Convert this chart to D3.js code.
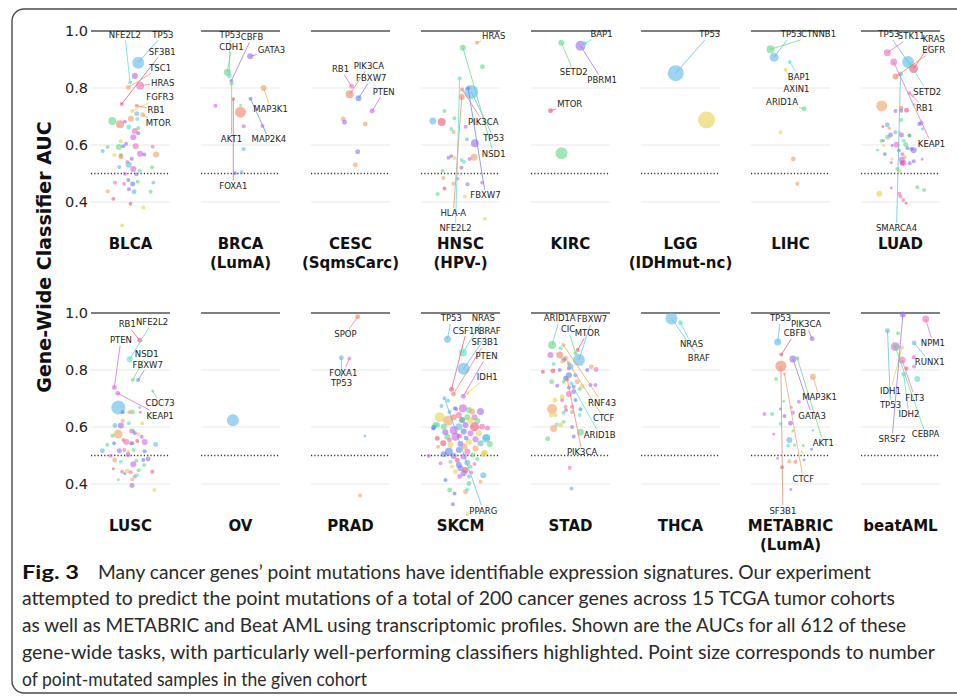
<!DOCTYPE html>
<html>
<head>
<meta charset="utf-8">
<script src="https://cdn.jsdelivr.net/npm/d3@7"></script>
<style>
  body { margin: 0; background: #fff; }
  svg { display: block; }
</style>
</head>
<body>
<script>
let svgWidth = 957;
let svgHeight = 697;

// cohort names per row (second entry = subtitle line)
let topCohorts = [["BLCA"], ["BRCA", "(LumA)"], ["CESC", "(SqmsCarc)"], ["HNSC", "(HPV-)"],
    ["KIRC"], ["LGG", "(IDHmut-nc)"], ["LIHC"], ["LUAD"]];
let bottomCohorts = [["LUSC"], ["OV"], ["PRAD"], ["SKCM"], ["STAD"], ["THCA"], ["METABRIC", "(LumA)"], ["beatAML"]];

let yTicks = [0.4, 0.6, 0.8, 1.0];
let gridValues = [0.4, 0.6, 0.8];

// gene colour groups
let palette = ["#5cb8e8", "#f06ab8", "#f08060", "#60d880", "#9a6af0", "#f0a060",
    "#e8d050", "#50e0d0", "#6080f0", "#d060e8", "#f05070", "#409060"];

// points: [jitter, AUC, point-mutated samples, colour group]
// labels: [gene, point number, label jitter, label AUC]
let blca = [[1.95,.889,100,0],[1.1,.842,25,4],[-0.1,.819,11,7],[-0.55,.802,17,5],[2.4,.808,44,1],[-2.2,.744,11,10],[1.55,.738,11,2],[0.45,.719,11,6],[1.55,.710,17,0],[3.05,.706,17,5],[-4.55,.684,44,3],[-2.6,.673,44,2],[0.1,.692,25,5],[-1.4,.682,11,4],[1.7,.691,11,7],[-0.45,.663,17,7],[1.95,.660,11,3],[1.1,.649,25,1],[1.95,.641,11,4],[0.7,.627,25,9],[-2.45,.613,11,6],[-1.1,.604,11,4],[1.3,.596,25,1],[-2.9,.593,25,3],[-1.8,.596,11,8],[5.55,.594,11,1],[-5.7,.593,11,3],[-6.95,.579,11,0],[-2.4,.565,11,3],[-4.05,.565,11,6],[2.4,.569,25,9],[3.45,.567,11,4],[6.4,.567,25,5],[-2.4,.559,17,2],[0.3,.552,11,4],[-0.8,.540,11,1],[-0.45,.531,25,0],[0.7,.516,25,9],[2.3,.510,11,3],[5.4,.522,11,3],[-2.8,.523,11,0],[-1.4,.499,11,9],[1.45,.497,11,4],[-0.55,.477,11,8],[1.8,.471,11,3],[-3.9,.468,11,1],[-1.6,.464,11,1],[0.55,.463,17,8],[5.7,.468,11,0],[-0.4,.445,11,4],[0.9,.436,17,0],[-5.7,.438,11,5],[5.05,.436,11,3],[-4.3,.411,11,10],[0,.394,11,10],[3.2,.381,11,6],[-2.1,.318,11,6]];
let blcaLabels = [["NFE2L2",3,-1.4,.987],["TP53",1,8.1,.987],["SF3B1",6,7.95,.927],["TSC1",4,7.4,.871],["HRAS",5,8.05,.819],["FGFR3",8,7.4,.767],["RB1",7,6.4,.722],["MTOR",10,6.95,.676]];

let brca = [[-3.3,.855,34,3],[-2.8,.842,17,7],[-2.3,.825,11,4],[-2.2,.816,11,3],[2.4,.911,25,4],[5.8,.800,25,5],[-6.25,.738,11,9],[2.5,.762,11,8],[-1.8,.761,9,10],[0,.739,6,3],[0,.715,84,2],[0.8,.666,11,9],[5.5,.667,11,9],[0.8,.586,11,0],[-1.4,.501,11,8],[0.3,.504,11,0]];
let brcaLabels = [["TP53",2,-2.6,.987],["CDH1",1,-2.25,.945],["CBFB",3,2.9,.980],["GATA3",5,7.75,.933],["MAP3K1",6,7.5,.727],["AKT1",4,-2.25,.620],["MAP2K4",8,7.1,.620],["FOXA1",9,-1.8,.457]];

let cesc = [[0.25,.806,17,1],[-0.2,.778,44,2],[2,.764,25,8],[5.4,.719,17,9],[-1.8,.691,17,5],[-1.5,.680,17,4],[3.7,.674,17,5],[1.8,.576,17,4],[1.2,.530,17,5]];
let cescLabels = [["RB1",1,-2.5,.867],["PIK3CA",2,4.6,.878],["FBXW7",3,5.2,.834],["PTEN",4,8.3,.787]];

let hnsc = [[4.1,.959,11,5],[0.6,.941,25,3],[5.5,.875,17,3],[-0.2,.834,11,7],[0.4,.795,11,2],[2.7,.786,136,0],[0.3,.768,25,2],[1.9,.799,11,8],[-4,.719,11,3],[-6.9,.684,34,0],[-4.7,.681,44,10],[-1.5,.694,11,3],[-2.3,.656,11,7],[-1.75,.646,11,5],[1.3,.664,11,9],[1.6,.620,11,0],[3.6,.606,44,4],[3.4,.557,34,5],[-3,.555,11,4],[-2.3,.561,11,4],[-1.5,.554,11,6],[0.3,.547,11,7],[0.9,.540,11,7],[2.3,.551,11,9],[0.25,.520,11,4],[-4.5,.509,11,3],[-4.3,.484,11,5],[-0.75,.482,11,1],[-1.8,.464,11,5],[1.75,.462,11,4],[5.4,.468,11,9],[-4,.447,11,10],[-5.7,.428,11,3],[1.1,.419,11,6],[6.1,.341,11,6]];
let hnscLabels = [["HRAS",1,8.3,.982],["PIK3CA",5,5.7,.680],["TP53",6,8.3,.624],["NSD1",2,8.3,.568],["FBXW7",8,6.25,.425],["HLA-A",7,-1.8,.360],["NFE2L2",4,-1.25,.308]];

let kirc = [[-2.3,.959,25,3],[2.5,.948,69,4],[3.6,.957,11,7],[-5,.720,17,10],[-2.25,.571,100,3]];
let kircLabels = [["BAP1",3,7.75,.988],["SETD2",1,0.8,.857],["PBRM1",2,7.9,.828],["MTOR",4,-0.2,.743]];

let lgg = [[-1.2,.852,178,0],[6.5,.688,200,6]];
let lggLabels = [["TP53",1,7.3,.988]];

let lihc = [[-5,.936,44,3],[-4.1,.908,56,0],[-0.2,.891,11,7],[-1.25,.864,11,6],[3.4,.727,17,3],[-2.5,.645,11,6],[0.7,.551,17,5],[1.7,.464,11,5]];
let lihcLabels = [["TP53",2,0.2,.988],["CTNNB1",1,7.0,.988],["BAP1",3,2.1,.840],["AXIN1",4,1.5,.798],["ARID1A",5,-2.1,.750]];

let luad = [[-3.3,.924,34,1],[-1.7,.891,34,1],[1.9,.891,100,0],[3.25,.868,56,10],[2.25,.887,11,7],[0,.849,17,0],[-1.2,.840,25,2],[2.2,.782,11,1],[3.1,.773,6,3],[3.4,.741,6,0],[-4.7,.737,84,5],[0.25,.730,11,2],[1.5,.722,17,10],[-1.25,.719,11,4],[0.2,.720,11,8],[0.2,.688,11,3],[5.2,.677,17,9],[4.7,.674,11,8],[5.5,.656,6,0],[-4.4,.664,6,10],[-3.3,.670,17,0],[-2.8,.659,6,2],[-1.3,.645,11,0],[-0.3,.645,6,6],[-2.5,.635,17,4],[-3.2,.627,17,3],[0.25,.635,17,4],[2.25,.633,11,11],[0.8,.615,11,7],[-4.25,.615,6,4],[-4.75,.615,11,3],[-1,.601,25,1],[-2.1,.598,6,4],[1.3,.601,17,3],[1.75,.589,11,8],[3.3,.582,25,4],[2.75,.586,11,8],[-4.2,.598,6,6],[-5.75,.582,6,3],[-0.4,.581,11,4],[0.5,.568,11,9],[-3.9,.568,11,8],[-2.1,.551,6,6],[0.3,.548,25,9],[0.75,.538,25,9],[1,.557,11,5],[0.4,.536,17,10],[2.3,.536,11,4],[3.3,.543,11,4],[5.4,.550,6,1],[-2.3,.538,6,10],[-0.8,.516,11,3],[-0.2,.510,11,6],[-5.3,.429,25,6],[-2.3,.449,6,9],[-0.3,.429,11,1],[0,.419,11,1],[0.7,.407,11,1],[1.4,.396,6,10],[4.2,.452,11,3],[5.9,.442,11,3]];
let luadLabels = [["TP53",3,-2.9,.988],["STK11",1,2.7,.982],["KRAS",4,8.3,.972],["EGFR",7,8.3,.933],["SETD2",5,6.7,.787],["RB1",8,6,.731],["KEAP1",2,7.75,.604],["SMARCA4",6,-1,.308]];

let lusc = [[2.3,.904,17,10],[-0.2,.838,25,7],[0.55,.765,11,3],[1.9,.765,11,8],[-4.05,.739,17,9],[-3.2,.718,17,9],[5.55,.726,6,3],[-3.05,.668,136,0],[2.3,.668,6,0],[0.45,.653,17,3],[-0.3,.652,11,5],[-1.95,.652,11,8],[2.45,.652,6,9],[2.95,.613,11,6],[-0.45,.613,11,7],[-1.9,.622,11,5],[-2.4,.605,25,4],[-3.9,.605,17,0],[-3.1,.575,56,5],[0.7,.586,11,7],[0.3,.586,17,1],[1.1,.578,11,4],[1.95,.575,11,6],[2.8,.566,11,9],[-4.55,.569,11,3],[6.3,.539,17,0],[3.55,.547,25,9],[-5.8,.538,11,3],[-4.1,.543,11,8],[-7.05,.517,17,0],[-2.8,.517,17,4],[-1.8,.554,11,2],[-1.1,.548,25,1],[0.1,.543,11,2],[0.45,.543,11,8],[1.7,.551,11,10],[-0.55,.513,11,6],[0.8,.519,11,3],[-1.55,.519,11,1],[3.55,.515,11,8],[-0.6,.503,17,9],[-4.95,.499,11,1],[-3.95,.484,17,5],[-2.4,.478,11,7],[1.45,.482,11,3],[3.2,.484,11,8],[4.4,.488,17,4],[0.7,.469,25,9],[3.4,.467,11,3],[-4.3,.453,6,10],[-0.8,.446,17,6],[-2.1,.443,11,1],[-1.4,.436,6,8],[0.05,.441,11,1],[2.05,.448,11,3],[1.1,.426,11,2],[1.6,.431,11,7],[5.45,.443,11,10],[0.45,.416,11,5],[-3.05,.415,6,3],[0.4,.395,17,4],[5.95,.379,11,6]];
let luscLabels = [["RB1",1,-0.8,.960],["NFE2L2",2,5.4,.968],["PTEN",5,-2.4,.905],["NSD1",3,4.05,.856],["FBXW7",4,4.3,.818],["CDC73",7,7.4,.683],["KEAP1",6,7.4,.640]];

let ov = [[-1.9,.624,100,0]];
let ovLabels = [];

let prad = [[1.8,.987,17,2],[-2.3,.843,17,0],[-0.3,.840,11,1],[3.6,.568,6,0],[2.4,.360,11,5]];
let pradLabels = [["SPOP",1,-1.25,.925],["FOXA1",3,-1.8,.791],["TP53",2,-2.25,.753]];

let skcm = [[-3.25,.908,34,0],[0.6,.861,44,7],[0.8,.804,100,0],[-2.25,.732,17,10],[-1.75,.716,17,2],[0.7,.708,17,9],[1.7,.719,11,6],[-4,.701,11,0],[-3.1,.692,11,0],[-1.4,.666,11,8],[0.6,.666,44,9],[5,.654,34,4],[2.1,.660,25,3],[2.9,.654,25,5],[-5.2,.634,69,6],[-3.1,.622,69,5],[-6.25,.607,25,3],[-6.7,.599,17,8],[-4.2,.601,25,3],[-1.7,.634,25,2],[-0.4,.642,25,1],[1.7,.634,25,3],[3.5,.634,25,1],[1.25,.607,25,4],[-0.4,.601,34,0],[3.5,.601,56,10],[5.4,.601,25,1],[-1.7,.589,44,9],[0.8,.584,25,8],[2.5,.578,25,9],[4.6,.578,25,6],[-1.25,.566,44,9],[-3.3,.566,25,3],[-5.8,.560,17,10],[-4.3,.543,25,10],[-2.5,.537,25,6],[0,.540,25,4],[2.1,.548,25,6],[3.75,.557,25,9],[5,.543,25,0],[6.5,.564,34,7],[7.3,.540,25,3],[-0.4,.519,25,8],[-2.9,.513,44,8],[1.7,.513,25,1],[3.75,.525,25,5],[5.8,.505,25,6],[-1.7,.498,25,4],[0.8,.496,25,9],[-7.9,.498,11,9],[-5,.473,11,1],[-2.5,.478,11,3],[-0.4,.467,25,8],[1.7,.475,25,0],[3.5,.470,11,1],[0,.455,25,4],[1.25,.449,25,10],[2.5,.461,11,3],[-1.25,.443,17,6],[0.8,.438,25,4],[2.1,.426,11,0],[5.7,.431,25,0],[-0.2,.426,17,9],[-3.75,.414,11,8],[5,.408,11,5],[2.1,.402,17,3],[-2.7,.379,17,3],[1.25,.373,17,5],[-1.5,.367,11,8],[-1.9,.329,11,4],[1.7,.294,11,6],[1.7,.381,11,7],[-6.8,.595,11,8],[-5.7,.607,17,7],[6.4,.560,44,0],[6.1,.510,25,6],[-1.1,.663,11,4],[4.2,.621,25,3],[-2.75,.653,11,0],[2.5,.622,25,6],[0.4,.625,25,11],[-3.8,.582,25,4],[1.4,.561,17,8],[-2.75,.554,17,1],[3.1,.502,17,3],[-4.2,.504,25,8],[-0.8,.483,17,10],[4.2,.488,11,3],[-2.1,.461,11,6],[2.7,.440,11,1],[-5.6,.531,11,5],[6.75,.596,17,9],[-0.25,.568,17,10],[1,.531,25,5],[-4.75,.674,11,0]];
let skcmLabels = [["TP53",1,-2.3,.981],["NRAS",2,5.7,.981],["CSF1R",4,1.5,.938],["BRAF",3,7.3,.938],["SF3B1",5,6.1,.897],["PTEN",6,6.5,.850],["IDH1",7,6.7,.776],["PPARG",8,5.7,.306]];

let stad = [[-4.6,.888,44,3],[-1.8,.888,11,5],[-2.5,.876,11,7],[-5,.853,25,9],[-2.7,.853,34,2],[-1.25,.841,17,5],[1.8,.870,11,10],[1.25,.859,11,3],[2.1,.835,100,0],[-1.7,.835,17,4],[-4.2,.821,11,7],[-2.1,.829,11,6],[-0.4,.823,11,2],[-0.4,.806,11,9],[-6.9,.794,11,10],[-4.4,.797,17,10],[-2.7,.800,11,4],[-0.4,.782,25,8],[1.25,.782,11,8],[5.2,.811,17,5],[6.4,.802,17,1],[4.2,.800,11,8],[-4.7,.759,17,3],[-3.3,.745,11,4],[-1.7,.759,11,3],[0.2,.753,11,7],[-0.8,.767,11,2],[0.8,.741,11,4],[1.7,.759,17,5],[2.3,.733,11,3],[2.9,.742,17,6],[5,.747,11,4],[6.25,.747,11,9],[0.8,.724,17,4],[-0.4,.716,25,1],[-2.1,.695,11,9],[1.25,.695,11,8],[-3.9,.695,17,6],[-2.1,.706,17,6],[-1.25,.671,11,2],[-4.6,.663,69,5],[2.5,.662,11,8],[-1.1,.660,11,9],[-4.8,.642,17,6],[-1.7,.650,11,3],[0.4,.671,11,1],[2.3,.642,11,7],[-3.75,.642,11,6],[0.4,.653,11,2],[-4.2,.595,34,5],[-2.5,.607,17,6],[-1.7,.618,11,3],[-3.5,.609,11,7],[0.4,.600,11,4],[-5.7,.559,17,3],[2.5,.582,34,3],[0.8,.567,11,4],[-0.2,.457,11,1],[0.25,.384,11,0],[-1.25,.771,17,8],[0,.812,25,0],[-0.4,.739,11,4]];
let stadLabels = [["ARID1A",1,-2.7,.981],["FBXW7",9,5.4,.978],["CIC",8,-0.6,.944],["MTOR",7,4.2,.931],["RNF43",2,7.9,.685],["CTCF",6,8.3,.631],["ARID1B",26,7.3,.572],["PIK3CA",27,2.9,.511]];

let thca = [[-2.25,.981,100,0],[0,.966,17,7]];
let thcaLabels = [["NRAS",2,2.75,.890],["BRAF",1,4.6,.843]];

let metabric = [[5.4,.910,17,4],[-3.2,.898,34,0],[-2.3,.854,11,10],[0.6,.839,34,4],[1.7,.841,11,3],[-2.4,.814,84,2],[5.6,.776,25,5],[-3.6,.768,11,3],[-1.7,.690,6,3],[2.1,.689,11,9],[0.2,.669,6,1],[-2.5,.663,6,8],[-6.5,.646,11,9],[-4.6,.646,11,3],[-1.5,.639,11,4],[0.6,.650,11,9],[0,.613,17,4],[-2.5,.611,11,7],[0.6,.586,6,3],[5.6,.588,4,0],[-4.2,.575,6,9],[-0.3,.554,25,0],[-0.6,.534,11,7],[1,.536,6,3],[3.2,.534,6,3],[5.25,.522,6,8],[2.9,.511,6,6],[-3.25,.490,6,9],[-0.3,.480,11,5],[1.25,.478,11,2],[3.4,.484,6,8],[-2.1,.459,11,10],[0.1,.381,6,4],[-1.5,.786,6,5]];
let metabricLabels = [["TP53",2,-2.5,.981],["PIK3CA",1,3.9,.960],["CBFB",3,1.1,.929],["MAP3K1",7,7.25,.704],["GATA3",4,5.4,.639],["AKT1",5,8.2,.545],["CTCF",34,3.2,.416],["SF3B1",6,-1.9,.306]];

let beataml = [[0.6,.995,25,4],[6.3,.979,34,1],[-3.25,.938,17,0],[-0.6,.929,11,3],[3.4,.895,17,0],[-1.3,.882,56,9],[-1.3,.882,17,3],[0.4,.880,11,6],[0.4,.835,34,1],[3.3,.845,11,9],[3.4,.812,11,9],[1.5,.805,11,10],[0.8,.785,17,7],[4.2,.768,25,7]];
let beatamlLabels = [["NPM1",2,8.1,.894],["RUNX1",5,7.3,.829],["IDH1",8,-2.5,.727],["FLT3",9,3.6,.703],["TP53",3,-2.5,.676],["IDH2",13,2.1,.644],["SRSF2",1,-2.1,.559],["CEBPA",7,6.25,.575]];

let captionLines = [
    "Many cancer genes\u2019 point mutations have identifiable expression signatures. Our experiment",
    "attempted to predict the point mutations of a total of 200 cancer genes across 15 TCGA tumor cohorts",
    "as well as METABRIC and Beat AML using transcriptomic profiles. Shown are the AUCs for all 612 of these",
    "gene-wide tasks, with particularly well-performing classifiers highlighted. Point size corresponds to number",
    "of point-mutated samples in the given cohort"
];
let captionWidths = [773, 873, 884, 913, 345];

let rows = [
    {names: topCohorts, pts: [blca, brca, cesc, hnsc, kirc, lgg, lihc, luad],
     labels: [blcaLabels, brcaLabels, cescLabels, hnscLabels, kircLabels, lggLabels, lihcLabels, luadLabels], top: 31},
    {names: bottomCohorts, pts: [lusc, ov, prad, skcm, stad, thca, metabric, beataml],
     labels: [luscLabels, ovLabels, pradLabels, skcmLabels, stadLabels, thcaLabels, metabricLabels, beatamlLabels], top: 313}
];

let svg = d3.select("body")
    .append("svg")
    .attr("width", svgWidth)
    .attr("height", svgHeight);

// figure frame
svg.append("rect")
    .attr("x", 12).attr("y", 9)
    .attr("width", 1000).attr("height", 684)
    .attr("rx", 12)
    .attr("fill", "none")
    .attr("stroke", "#4a4a4a")
    .attr("stroke-width", 1.4);

let xBand = d3.scaleBand().domain(d3.range(8)).range([75.5, 955.5]);
let jitter = d3.scaleLinear().domain([-10, 10]).range([-40, 40]);
let radius = d3.scaleSqrt().domain([0, 400]).range([0, 12]);
let halfW = 39.5;

rows.forEach(function(row) {
    let yScale = d3.scaleLinear().domain([0.4, 1.0]).range([row.top + 171, row.top]);

    let leftAxis = d3.axisLeft(yScale)
        .tickValues(yTicks)
        .tickFormat(d3.format(".1f"))
        .tickSize(0)
        .tickPadding(0);

    let axisGroup = svg.append("g")
        .attr("transform", "translate(88, 0)")
        .call(leftAxis);
    axisGroup.select(".domain").remove();
    axisGroup.selectAll("text")
        .attr("font-family", "DejaVu Sans")
        .attr("font-size", 14.5)
        .attr("fill", "#222");

    row.names.forEach(function(name, i) {
        let cx = xBand(i) + xBand.bandwidth() / 2;
        let g = svg.append("g");

        g.selectAll(".grid")
            .data(gridValues)
            .enter().append("line")
            .attr("x1", cx - halfW).attr("x2", cx + halfW)
            .attr("y1", d => yScale(d)).attr("y2", d => yScale(d))
            .attr("stroke", "#e9e9e9")
            .attr("stroke-width", 1);

        g.append("line")
            .attr("x1", cx - halfW).attr("x2", cx + halfW)
            .attr("y1", yScale(1.0)).attr("y2", yScale(1.0))
            .attr("stroke", "#555")
            .attr("stroke-width", 1.3);

        g.append("line")
            .attr("x1", cx - halfW).attr("x2", cx + halfW)
            .attr("y1", yScale(0.5)).attr("y2", yScale(0.5))
            .attr("stroke", "#333")
            .attr("stroke-width", 1.3)
            .attr("stroke-dasharray", "1.2,2.1");

        let pts = row.pts[i];
        g.selectAll("circle")
            .data(pts)
            .enter().append("circle")
            .attr("cx", d => cx + jitter(d[0]))
            .attr("cy", d => yScale(d[1]))
            .attr("r", d => radius(d[2]))
            .attr("fill", d => palette[d[3]])
            .attr("fill-opacity", 0.6);

        // gene labels with leader lines
        row.labels[i].forEach(function(lab) {
            let p = pts[lab[1] - 1];
            let px = cx + jitter(p[0]), py = yScale(p[1]);
            let lx = cx + jitter(lab[2]), ly = yScale(lab[3]);
            let txt = g.append("text")
                .attr("x", lx).attr("y", ly)
                .attr("dy", "0.35em")
                .attr("text-anchor", "middle")
                .attr("font-family", "DejaVu Sans")
                .attr("font-size", 8.5)
                .attr("fill", "#222")
                .text(lab[0]);
            let w = txt.node().getComputedTextLength() / 2 + 1;
            let h = 5.5;
            let dx = px - lx, dy = py - ly;
            let s = Math.min(dx === 0 ? Infinity : w / Math.abs(dx), dy === 0 ? Infinity : h / Math.abs(dy));
            if (s < 1) {
                g.insert("line", "text")
                    .attr("x1", px).attr("y1", py)
                    .attr("x2", lx + dx * s).attr("y2", ly + dy * s)
                    .attr("stroke", palette[p[3]])
                    .attr("stroke-opacity", 0.8)
                    .attr("stroke-width", 0.9);
            }
        });

        let nameText = g.append("text")
            .attr("x", cx)
            .attr("y", row.top + 218)
            .attr("text-anchor", "middle")
            .attr("font-family", "DejaVu Sans")
            .attr("font-weight", "bold")
            .attr("font-size", 15)
            .attr("fill", "#111");
        name.forEach((part, k) => {
            nameText.append("tspan")
                .attr("x", cx)
                .attr("dy", k === 0 ? 0 : 18.5)
                .text(part);
        });
    });
});

// y axis title
svg.append("text")
    .attr("transform", "translate(51, 257) rotate(-90)")
    .attr("text-anchor", "middle")
    .attr("font-family", "DejaVu Sans")
    .attr("font-weight", "bold")
    .attr("font-size", 19)
    .attr("fill", "#111")
    .text("Gene-Wide Classifier AUC");

// caption
let captionGroup = svg.append("g")
    .attr("font-family", "Lato")
    .attr("fill", "#2a2a2a");

let probe = captionGroup.append("text")
    .attr("font-size", 17)
    .text(captionLines[3]);
let capSize = 17 * 913 / probe.node().getComputedTextLength();
probe.remove();

captionGroup.append("text")
    .attr("x", 22)
    .attr("y", 578.5)
    .attr("font-size", capSize)
    .attr("font-weight", "bold")
    .attr("fill", "#111")
    .attr("textLength", 57)
    .attr("lengthAdjust", "spacingAndGlyphs")
    .text("Fig. 3");

captionLines.forEach(function(line, k) {
    captionGroup.append("text")
        .attr("x", k === 0 ? 98 : 22)
        .attr("y", 578.5 + k * 26.75)
        .attr("font-size", capSize)
        .attr("textLength", captionWidths[k])
        .attr("lengthAdjust", "spacingAndGlyphs")
        .text(line);
});
</script>
</body>
</html>
